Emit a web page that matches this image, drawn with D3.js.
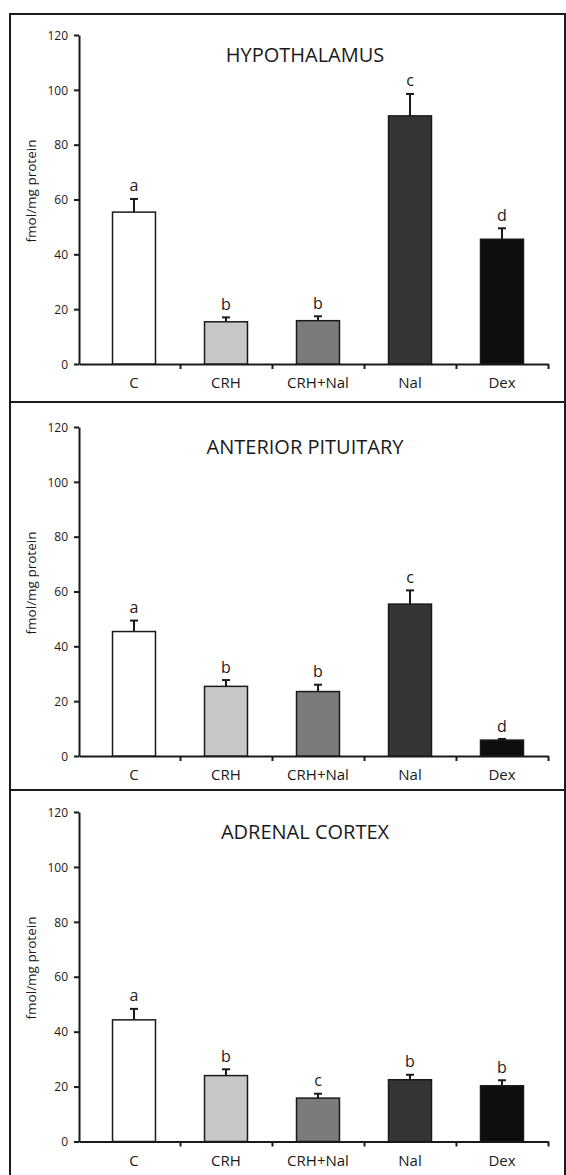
<!DOCTYPE html>
<html>
<head>
<meta charset="utf-8">
<title>Receptor binding by region</title>
<script src="https://d3js.org/d3.v7.min.js"></script>
<style>
  html, body { margin: 0; padding: 0; background: #fff; }
  svg { display: block; }
  text { font-family: "Open Sans", "DejaVu Sans", sans-serif; fill: #1a1a1a; }
  .frame { fill: none; stroke: #1a1a1a; stroke-width: 2px; }
  .axis path, .axis line { stroke: #1a1a1a; stroke-width: 2px; }
  .bar { stroke: #1a1a1a; stroke-width: 1.5px; }
  .err { stroke: #1a1a1a; stroke-width: 2px; }
  .title, .letter, .xlab, .ylab { text-anchor: middle; }
</style>
</head>
<body>
<svg width="566" height="1175"></svg>
<script>
// treatment groups and bar fills
const groups = ["C", "CRH", "CRH+Nal", "Nal", "Dex"];
const fills = ["#ffffff", "#c8c8c8", "#7b7b7b", "#353535", "#0e0e0e"];
const yTicks = [0, 20, 40, 60, 80, 100, 120];
const titles = ["HYPOTHALAMUS", "ANTERIOR PITUITARY", "ADRENAL CORTEX"];

// fmol/mg protein, mean and error
const hypoMeans = [55.4, 15.4, 15.8, 90.5, 45.5];
const hypoErrs = [4.8, 1.6, 1.6, 8.0, 4.0];
const hypoLetters = ["a", "b", "b", "c", "d"];

const pitMeans = [45.4, 25.4, 23.5, 55.4, 5.8];
const pitErrs = [4.0, 2.3, 2.5, 5.0, 0.4];
const pitLetters = ["a", "b", "b", "c", "d"];

const adrMeans = [44.3, 24.0, 15.8, 22.5, 20.3];
const adrErrs = [4.0, 2.3, 1.6, 1.8, 2.0];
const adrLetters = ["a", "b", "c", "b", "b"];

const panels = [
  {title: titles[0], means: hypoMeans, errs: hypoErrs, letters: hypoLetters, frameTop: 14, top: 35, base: 364},
  {title: titles[1], means: pitMeans, errs: pitErrs, letters: pitLetters, frameTop: 402, top: 427, base: 756},
  {title: titles[2], means: adrMeans, errs: adrErrs, letters: adrLetters, frameTop: 790, top: 812, base: 1141.5}
];

const svg = d3.select("svg");
const axisX0 = 79, plotL = 88, plotR = 548;

let x = d3.scaleBand()
  .domain(groups)
  .range([plotL, plotR])
  .paddingInner(0.533)
  .paddingOuter(0.2665);

let color = d3.scaleOrdinal().domain(groups).range(fills);

panels.forEach(p => {
  let g = svg.append("g");

  g.append("rect")
    .attr("class", "frame")
    .attr("x", 10).attr("y", p.frameTop)
    .attr("width", 555).attr("height", 388);

  let y = d3.scaleLinear().domain([0, 120]).range([p.base, p.top]);

  // y axis
  g.append("g")
    .attr("class", "axis")
    .attr("transform", `translate(${axisX0},0)`)
    .call(d3.axisLeft(y).tickValues(yTicks).tickSize(5).tickSizeOuter(0).tickPadding(6))
    .call(a => a.attr("font-size", 12))
    .call(a => a.selectAll("text").attr("dy", "0.35em"));

  // x axis: baseline plus boundary ticks between groups
  let bounds = groups.map(d => x(d) + x.bandwidth() / 2 + x.step() / 2);
  let xb = d3.scaleLinear().domain([axisX0, plotR]).range([axisX0, plotR]);
  g.append("g")
    .attr("class", "axis")
    .attr("transform", `translate(0,${y(0)})`)
    .call(d3.axisBottom(xb).tickValues(bounds).tickSize(5).tickSizeOuter(0).tickFormat(""));

  g.selectAll(".xlab")
    .data(groups)
    .join("text")
    .attr("class", "xlab")
    .attr("font-size", 15)
    .attr("x", d => x(d) + x.bandwidth() / 2)
    .attr("y", y(0) + 24)
    .text(d => d);

  let rows = groups.map((d, i) => ({g: d, v: p.means[i], e: p.errs[i], l: p.letters[i]}));

  // error bars drawn first so bars cover the stem
  let err = g.selectAll(".errg").data(rows).join("g").attr("class", "errg");
  err.append("line")
    .attr("class", "err")
    .attr("x1", d => x(d.g) + x.bandwidth() / 2)
    .attr("x2", d => x(d.g) + x.bandwidth() / 2)
    .attr("y1", d => y(d.v))
    .attr("y2", d => y(d.v + d.e));
  err.append("line")
    .attr("class", "err")
    .attr("x1", d => x(d.g) + x.bandwidth() / 2 - 4)
    .attr("x2", d => x(d.g) + x.bandwidth() / 2 + 4)
    .attr("y1", d => y(d.v + d.e))
    .attr("y2", d => y(d.v + d.e));

  g.selectAll(".bar")
    .data(rows)
    .join("rect")
    .attr("class", "bar")
    .attr("x", d => x(d.g))
    .attr("width", x.bandwidth())
    .attr("y", d => y(d.v))
    .attr("height", d => y(0) - y(d.v))
    .style("fill", d => color(d.g));

  g.selectAll(".letter")
    .data(rows)
    .join("text")
    .attr("class", "letter")
    .attr("font-size", 16)
    .attr("x", d => x(d.g) + x.bandwidth() / 2)
    .attr("y", d => y(d.v + d.e) - 7.5)
    .text(d => d.l);

  g.append("text")
    .attr("class", "title")
    .attr("font-size", 20)
    .attr("x", 305)
    .attr("y", p.top + 27)
    .text(p.title);

  g.append("text")
    .attr("class", "ylab")
    .attr("font-size", 13.5)
    .attr("transform", `translate(36,${p.top + 156}) rotate(-90)`)
    .text("fmol/mg protein");
});
</script>
</body>
</html>
